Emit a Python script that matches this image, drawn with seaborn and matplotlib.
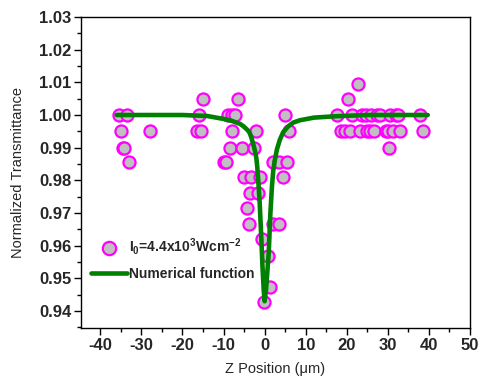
import numpy as np
import pandas as pd
import matplotlib
matplotlib.use("Agg")
import matplotlib.pyplot as plt
import seaborn as sns
from matplotlib.ticker import MultipleLocator

# Measured data (Z position in um, normalized transmittance)
z_meas = [-35.5, -33.4, -35.0, -34.6, -34.2, -33.0, -27.9,
          -15.0, -16.0, -16.5, -15.4,
          -6.4, -8.9, -7.9, -7.1, -8.0,
          -8.4, -5.6, -2.5, -10.0, -9.5,
          -2.0, 4.9, 5.9,
          -5.1, -3.2, -1.1,
          2.0, 3.6, 5.4, 4.5,
          -3.6, -1.7, -4.4, -3.9, 2.1, 3.6,
          -0.7, 0.8, 1.2, -0.1,
          22.8, 20.4,
          17.5, 21.2, 23.6, 24.6, 25.8, 27.4, 28.1, 30.5, 32.0, 32.5, 37.9,
          18.7, 19.5, 20.7, 23.3, 24.8, 25.6, 26.6, 29.5, 30.1, 31.3, 32.9, 38.5,
          30.3]
t_meas = [1.000, 1.000, 0.995, 0.990, 0.990, 0.9855, 0.995,
          1.005, 1.000, 0.995, 0.995,
          1.005, 1.000, 1.000, 1.000, 0.995,
          0.990, 0.990, 0.990, 0.9857, 0.9857,
          0.995, 1.000, 0.995,
          0.981, 0.981, 0.981,
          0.9857, 0.9857, 0.9857, 0.981,
          0.976, 0.976, 0.9715, 0.9665, 0.9665, 0.9665,
          0.962, 0.957, 0.9473, 0.9428,
          1.0095, 1.005,
          1.000, 1.000, 1.000, 1.000, 1.000, 1.000, 1.000, 1.000, 1.000, 1.000, 1.000,
          0.995, 0.995, 0.995, 0.995, 0.995, 0.995, 0.995, 0.995, 0.995, 0.995, 0.995, 0.995,
          0.990]

# Numerical function curve
z_fit = [-36.0, -20.0, -14.0, -10.0, -8.0, -6.0, -5.2, -4.5, -4.0, -3.6, -3.2,
         -2.8, -2.5, -2.2, -2.0, -1.8, -1.5, -1.2, -0.8, -0.5, -0.2, 0.0,
         0.3, 0.6, 1.0, 1.4, 1.8, 2.1, 2.5, 3.0, 3.7, 4.5, 5.7, 7.0, 8.6,
         12.0, 17.0, 25.0, 39.7]
t_fit = [1.000, 1.000, 0.9997, 0.9988, 0.9982, 0.9973, 0.9966, 0.9958, 0.9952,
         0.9944, 0.9930, 0.9912, 0.9898, 0.9882, 0.9866, 0.9842, 0.979, 0.973,
         0.962, 0.953, 0.946, 0.9430, 0.946, 0.951, 0.958, 0.970, 0.9785,
         0.9830, 0.9863, 0.9895, 0.9924, 0.9947, 0.9965, 0.9977, 0.9984,
         0.9992, 0.9996, 1.000, 1.000]

xticks = [-40, -30, -20, -10, 0, 10, 20, 30, 40, 50]
yticks = [0.94, 0.95, 0.96, 0.97, 0.98, 0.99, 1.00, 1.01, 1.02, 1.03]

sns.set_style("ticks")
plt.rcParams['font.family'] = ['Liberation Sans', 'DejaVu Sans']
plt.rcParams['mathtext.fontset'] = 'custom'
plt.rcParams['mathtext.rm'] = 'Liberation Sans:bold'
plt.rcParams['mathtext.it'] = 'Liberation Sans:bold'
plt.rcParams['mathtext.bf'] = 'Liberation Sans:bold'
plt.rcParams['mathtext.default'] = 'rm'

fig = plt.figure(figsize=(4.78, 3.81), dpi=100)
ax = fig.add_axes([0.1695, 0.139, 0.9833 - 0.1695, 0.9554 - 0.139])

df_m = pd.DataFrame({"z": z_meas, "t": t_meas})
df_f = pd.DataFrame({"z": z_fit, "t": t_fit})

sns.scatterplot(data=df_m, x="z", y="t", ax=ax, s=76, color="#C0C0C0",
                edgecolor="#FF00FF", linewidth=1.6, zorder=2,
                label=r'I$_0$=4.4x10$^3$Wcm$^{-2}$')
sns.lineplot(data=df_f, x="z", y="t", ax=ax, color="#008000", linewidth=3.3,
             zorder=3, label="Numerical function", sort=False)

ax.set_xlim(-44.7, 50)
ax.set_ylim(0.9348, 1.03)
ax.set_xticks(xticks)
ax.set_yticks(yticks)
ax.xaxis.set_minor_locator(MultipleLocator(5))
ax.yaxis.set_minor_locator(MultipleLocator(0.005))
ax.set_xticklabels([str(v) for v in xticks], fontsize=12, fontweight='bold')
ax.set_yticklabels(["%.2f" % v for v in yticks], fontsize=12, fontweight='bold')
ax.tick_params(which='major', direction='out', length=5, width=1, color='black', pad=2)
ax.tick_params(which='minor', direction='out', length=3, width=1, color='black')
for sp in ax.spines.values():
    sp.set_visible(True)
    sp.set_color('black')
    sp.set_linewidth(1)

ax.set_xlabel(u"Z Position (\u03bcm)", fontsize=10.5, labelpad=7)
ax.set_ylabel("Normalized Transmittance", fontsize=10.5, labelpad=10)

leg = ax.legend(loc='upper left', bbox_to_anchor=(0.018, 0.305), frameon=False,
                prop={'size': 10, 'weight': 'bold'}, handlelength=2.6,
                handletextpad=0.15, labelspacing=0.7, borderaxespad=0,
                borderpad=0.2, markerscale=1.1)

fig.savefig("out.png", dpi=100)
